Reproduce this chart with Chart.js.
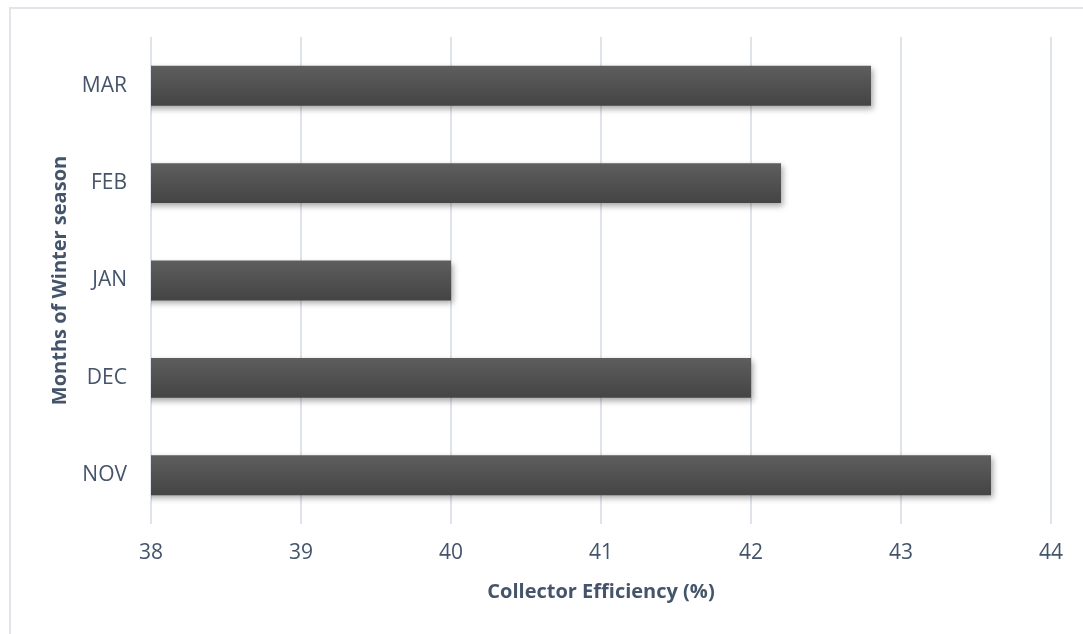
<!DOCTYPE html>
<html>
<head>
<meta charset="utf-8">
<script src="https://cdn.jsdelivr.net/npm/chart.js@4"></script>
<style>
  html, body { margin: 0; padding: 0; background: #ffffff; overflow: hidden; }
  #wrap { position: relative; width: 1083px; height: 634px; }
  #frame {
    position: absolute; left: 9px; top: 7px; width: 1200px; height: 700px;
    border-left: 2px solid #e1e5ea; border-top: 2px solid #e1e5ea;
    box-sizing: border-box; pointer-events: none;
  }
  canvas { position: absolute; left: 0; top: 0; }
</style>
</head>
<body>
<div id="wrap">
  <div id="frame"></div>
  <canvas id="chart" width="1083" height="634"></canvas>
</div>
<script>
// Winter months, listed bottom to top on the chart
const months = ['NOV', 'DEC', 'JAN', 'FEB', 'MAR'];
// Collector efficiency in percent for each month
const efficiency = [43.6, 42.0, 40.0, 42.2, 42.8];
// Value axis range and step
const xTicks = [38, 39, 40, 41, 42, 43, 44];

const textColor = '#44546a';
const fontFamily = '"Open Sans", "Liberation Sans", sans-serif';

// Vertical shading on each bar, lighter at the top
function barFill(context) {
  const chart = context.chart;
  const yScale = chart.scales && chart.scales.y;
  if (!yScale || context.type !== 'data' || !isFinite(yScale.top)) return '#525252';
  const center = yScale.getPixelForValue(context.dataIndex);
  const step = Math.abs(yScale.getPixelForValue(1) - yScale.getPixelForValue(0));
  const h = step * 0.41 / 2;
  const g = chart.ctx.createLinearGradient(0, center - h, 0, center + h);
  g.addColorStop(0, '#5e5e5e');
  g.addColorStop(1, '#444444');
  return g;
}

// Soft drop shadow under the bars
const barShadow = {
  id: 'barShadow',
  beforeDatasetsDraw(chart) {
    const ctx = chart.ctx;
    ctx.save();
    ctx.shadowColor = 'rgba(0, 0, 0, 0.35)';
    ctx.shadowBlur = 6;
    ctx.shadowOffsetX = 2;
    ctx.shadowOffsetY = 3;
  },
  afterDatasetsDraw(chart) {
    chart.ctx.restore();
  }
};

new Chart(document.getElementById('chart'), {
  type: 'bar',
  data: {
    labels: months,
    datasets: [{
      label: 'Collector Efficiency (%)',
      data: efficiency,
      backgroundColor: barFill,
      borderWidth: 0,
      barPercentage: 0.41,
      categoryPercentage: 1.0
    }]
  },
  options: {
    indexAxis: 'y',
    responsive: false,
    animation: false,
    layout: { padding: { left: 0, right: 32, top: 37, bottom: 0 } },
    plugins: {
      legend: { display: false },
      tooltip: { enabled: false }
    },
    scales: {
      x: {
        min: xTicks[0],
        max: xTicks[xTicks.length - 1],
        afterBuildTicks(axis) { axis.ticks = xTicks.map(v => ({ value: v })); },
        afterFit(axis) { axis.height = 110; },
        grid: { color: '#dfe3ea', lineWidth: 2, drawTicks: false },
        border: { display: false },
        ticks: { color: textColor, font: { family: fontFamily, size: 21 }, padding: 16 },
        title: {
          display: true,
          text: 'Collector Efficiency (%)',
          color: textColor,
          font: { family: fontFamily, size: 20, weight: 'bold' },
          padding: { top: 0, bottom: 30 }
        }
      },
      y: {
        reverse: true,
        afterFit(axis) { axis.width = 151; },
        grid: { display: false, drawTicks: false },
        border: { display: false },
        ticks: { color: textColor, font: { family: fontFamily, size: 21 }, padding: 24 },
        title: {
          display: true,
          text: 'Months of Winter season',
          color: textColor,
          font: { family: fontFamily, size: 20, weight: 'bold' },
          padding: { top: 48, bottom: 0 }
        }
      }
    }
  },
  plugins: [barShadow]
});
</script>
</body>
</html>
